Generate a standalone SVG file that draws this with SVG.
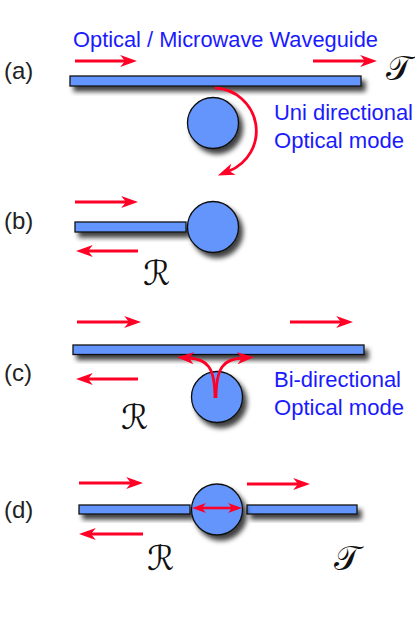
<svg xmlns="http://www.w3.org/2000/svg" width="415" height="623" viewBox="0 0 415 623">
<defs>
<filter id="sh" x="-20%" y="-50%" width="150%" height="250%">
<feDropShadow dx="4" dy="5" stdDeviation="2.5" flood-color="#000" flood-opacity="0.75"/>
</filter>
<marker id="ah" viewBox="0 0 14 10" refX="4" refY="5" markerWidth="17" markerHeight="12" markerUnits="userSpaceOnUse" orient="auto">
<path d="M0,0 L14,5 L0,10 L4,5 Z" fill="#ff0026"/>
</marker>
<marker id="ahs" viewBox="0 0 14 10" refX="4" refY="5" markerWidth="14" markerHeight="10" markerUnits="userSpaceOnUse" orient="auto-start-reverse">
<path d="M0,0 L14,5 L0,10 L4,5 Z" fill="#ff0026"/>
</marker>
</defs>
<style>
.wg{fill:#6495fd;stroke:#111;stroke-width:1.3;filter:url(#sh)}
.ring{fill:#6495fd;stroke:#111;stroke-width:1.3;filter:url(#sh)}
.ar{fill:none;stroke:#ff0026;stroke-width:2.8;marker-end:url(#ah)}
.lab{font-family:"Liberation Sans",Arial,sans-serif;font-size:24px;fill:#222}
.bt{font-family:"Liberation Sans",Arial,sans-serif;font-size:22px;fill:#1a1aff}
.scr{font-family:"DejaVu Serif","DejaVu Sans",serif;font-size:34px;fill:#111}
</style>

<g id="panel-a">
<text class="lab" x="4" y="79">(a)</text>
<text class="bt" x="73" y="47" textLength="305" lengthAdjust="spacingAndGlyphs">Optical / Microwave  Waveguide</text>
<rect id="wg-a" class="wg" x="70" y="76" width="291" height="10"/>
<circle id="res-a" class="ring" cx="213" cy="123" r="25.5"/>
<text class="bt" x="274" y="120" textLength="139" lengthAdjust="spacingAndGlyphs">Uni directional</text>
<text class="bt" x="274" y="148" textLength="130" lengthAdjust="spacingAndGlyphs">Optical mode</text>
<text class="scr" x="386" y="80">𝒯</text>
</g>

<g id="panel-b">
<text class="lab" x="4" y="229">(b)</text>
<rect id="wg-b" class="wg" x="75" y="222" width="111" height="10"/>
<circle id="res-b" class="ring" cx="213" cy="227" r="25.5"/>
<text class="scr" x="143" y="285">ℛ</text>
</g>

<g id="panel-c">
<text class="lab" x="4" y="381">(c)</text>
<rect id="wg-c" class="wg" x="73" y="345" width="291" height="9.5"/>
<circle id="res-c" class="ring" cx="217" cy="397" r="25.5"/>
<text class="bt" x="274" y="387" textLength="127" lengthAdjust="spacingAndGlyphs">Bi-directional</text>
<text class="bt" x="274" y="415" textLength="130" lengthAdjust="spacingAndGlyphs">Optical mode</text>
<text class="scr" x="121" y="429">ℛ</text>
</g>

<g id="panel-d">
<text class="lab" x="4" y="518">(d)</text>
<rect id="wg-d1" class="wg" x="79" y="505" width="111" height="9"/>
<rect id="wg-d2" class="wg" x="247" y="505" width="110" height="9"/>
<circle id="res-d" class="ring" cx="217" cy="509.5" r="25.5"/>
<text class="scr" x="147" y="570">ℛ</text>
<text class="scr" x="334" y="570">𝒯</text>
</g>

<g id="connectors">
<path class="ar" d="M75,61 H125"/>
<path class="ar" d="M313,61 H365"/>
<path class="ar" d="M215,88 A43,43 0 0 1 229,171"/>
<path class="ar" d="M75,202 H126"/>
<path class="ar" d="M138,251 H88"/>
<path class="ar" d="M77,322 H129"/>
<path class="ar" d="M290,322 H341"/>
<path class="ar" d="M138,379 H88"/>
<path class="ar" d="M215,398 C215,367 207,359 189,358"/>
<path class="ar" d="M216,398 C216,367 224,359 242,358"/>
<path class="ar" d="M79,483 H131"/>
<path class="ar" d="M247,484 H298"/>
<path class="ar" d="M143,534 H91"/>
<path fill="none" stroke="#ff0026" stroke-width="2.6" marker-start="url(#ahs)" marker-end="url(#ahs)" d="M202,508 H232"/>
</g>
</svg>
